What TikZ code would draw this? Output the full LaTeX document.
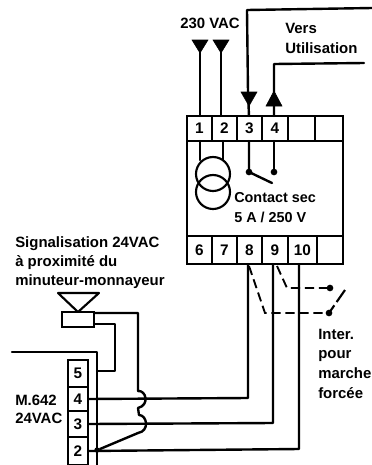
\documentclass[tikz,border=0pt]{standalone}
\usepackage{fontspec}
\setmainfont{Liberation Sans}
\usetikzlibrary{calc}
\tikzset{
  wire/.style={line width=1.8pt,line cap=round,line join=round},
  dash wire/.style={line width=1.4pt,dash pattern=on 7pt off 3.5pt},
  term/.style={draw=black,line width=1.9pt,minimum height=0pt,minimum width=0pt,inner sep=0pt,font=\bfseries\fontsize{11.5}{12}\selectfont},
  lbl/.style={inner sep=0pt,anchor=base west,font=\bfseries\fontsize{11.2}{12}\selectfont},
  lblb/.style={lbl,font=\bfseries\fontsize{10.8}{12}\selectfont},
  tip/.style={fill=black,draw=black,line width=0.4pt},
  spot/.style={circle,fill=black,inner sep=0pt,minimum size=5pt}
}
\newcommand{\termbox}[6]{\node[term,minimum width=#4*0.75pt,minimum height=#5*0.75pt] (#1) at (#2,#3) {#6};}
\begin{document}
\begin{tikzpicture}[x=0.75pt,y=-0.75pt]
\useasboundingbox (0,0) rectangle (372,465);
% module body
\node[draw=black,line width=1.9pt,minimum width=156*0.75pt,minimum height=148*0.75pt,inner sep=0pt] (body) at (265,190) {};
\termbox{t1}{199.5}{128.5}{25}{25}{1}
\termbox{t2}{224.5}{128.5}{25}{25}{2}
\termbox{t3}{249.5}{128.5}{25}{25}{3}
\termbox{t4}{275}{128.5}{26}{25}{4}
\termbox{t5}{301.5}{128.5}{27}{25}{}
\termbox{t5b}{329}{128.5}{28}{25}{}
\termbox{t6}{199.5}{250}{25}{28}{6}
\termbox{t7}{224.5}{250}{25}{28}{7}
\termbox{t8}{249.5}{250}{25}{28}{8}
\termbox{t9}{275}{250}{26}{28}{9}
\termbox{t10}{302.5}{250}{29}{28}{10}
\termbox{t11}{330}{250}{26}{28}{}
% transformer
\node[draw=black,circle,line width=1.6pt,minimum size=34*0.75pt,inner sep=0pt] (coilA) at (213,174) {};
\node[draw=black,circle,line width=1.6pt,minimum size=34*0.75pt,inner sep=0pt] (coilB) at (213,192) {};
\draw[wire] (200,141) -- (200,160);
\draw[wire] (223,141) -- (223,160);
% contact
\node[spot] (c3) at (249,172) {};
\node[spot] (c4) at (274,172) {};
\coordinate (blade) at (272,183);
\draw[wire] (249,141) -- (c3.center) -- (blade);
\draw[wire] (274,141) -- (c4.center);
% supply
\draw[wire] (200,52) -- (200,116);
\draw[wire] (221,52) -- (221,116);
\draw[tip] (192,40) -- (208,40) -- (200,53) -- cycle;
\draw[tip] (213,40) -- (229,40) -- (221,53) -- cycle;
% use
\coordinate (u3) at (372,8);
\coordinate (u4) at (364,63);
\draw[wire] (u3) -- (247,10) -- (248,92) -- (249,116);
\draw[wire] (u4) -- (274,64) -- (274,116);
\draw[tip] (241,92) -- (257,92) -- (249,106) -- cycle;
\draw[tip] (266,106) -- (282,106) -- (274,91) -- cycle;
% M.642 block
\coordinate (bus5) at (97,371);
\coordinate (bus2) at (97,450);
\termbox{m5}{78}{373.5}{20}{27}{5}
\termbox{m4}{78}{399}{20}{24}{4}
\termbox{m3}{78}{424}{20}{26}{3}
\termbox{m2}{78}{451}{20}{28}{2}
\draw[wire] (12,352) -- (97,352) -- (97,465);
% horn
\node[draw=black,line width=1.6pt,minimum width=32*0.75pt,minimum height=15*0.75pt,inner sep=0pt] (horn) at (78,319.5) {};
\draw[line width=1.6pt,line join=round] (58,293) -- (99,293) -- (78,312) -- cycle;
\draw[wire] (94,324) -- (115,324) -- (115,371) -- (bus5);
% returns
\draw[wire] (248,264) -- (248,398) -- (m4.east);
\draw[wire] (273,264) -- (273,423) -- (m3.east);
\draw[wire] (299,264) -- (299,449) -- (m2.east);
% hop wire
\draw[wire] (94,313) -- (138,313) -- (138,391)
  .. controls (146,390) and (150,405) .. (138,408)
  -- (139,415)
  .. controls (147,415) and (150,431) .. (138,433)
  -- (100,449);
\node[spot,minimum size=4pt] (j2) at (bus2) {};
% forced switch
\node[spot,minimum size=5pt] (sw1) at (330,288) {};
\node[spot,minimum size=5pt] (sw2) at (329,313) {};
\draw[dash wire] (277,266) -- (287,288) -- (sw1.center);
\draw[dash wire] (249,266) -- (265,313) -- (sw2.center);
\draw[line width=1.6pt,dash pattern=on 11pt off 3pt] (345,290) -- (sw2.center);
% labels
\node[lbl] (a) at (180,28) {230 VAC};
\node[lbl] (b) at (285,33) {Vers};
\node[lbl] (c) at (285,53) {Utilisation};
\node[lblb] (d) at (234,202) {Contact sec};
\node[lblb] (e) at (234,222) {5 A / 250 V};
\node[lbl] (f) at (15,247) {Signalisation 24VAC};
\node[lbl] (g) at (15,266) {à proximité du};
\node[lbl] (h) at (15,285) {minuteur-monnayeur};
\node[lbl] (i) at (15,405) {M.642};
\node[lbl] (j) at (15,423) {24VAC};
\node[lbl] (k) at (318,339) {Inter.};
\node[lbl] (l) at (318,358) {pour};
\node[lbl] (m) at (318,378) {marche};
\node[lbl] (n) at (318,398) {forcée};
\end{tikzpicture}
\end{document}
